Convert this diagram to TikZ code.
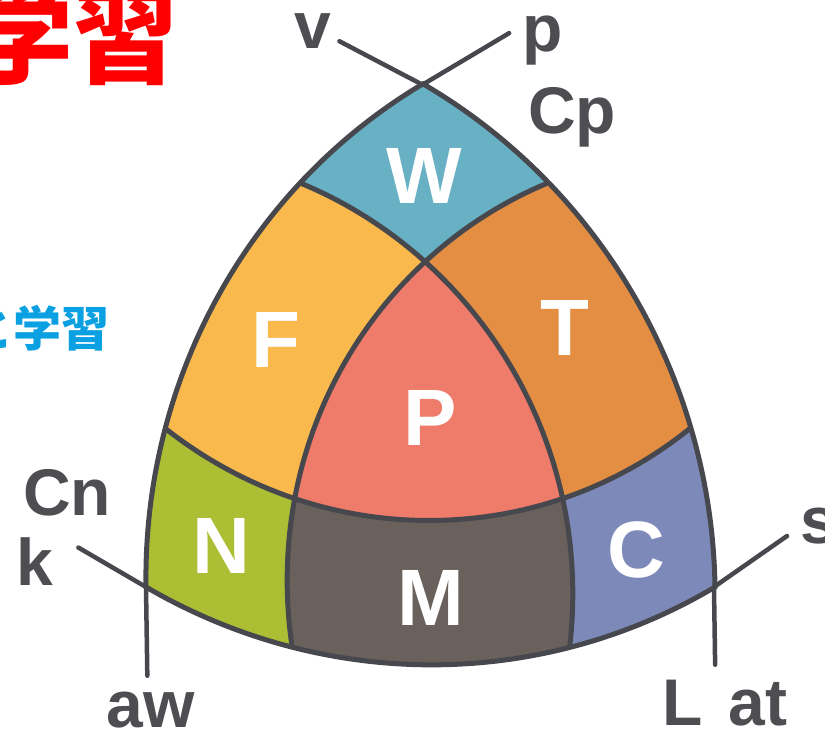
\documentclass[tikz,border=0pt]{standalone}
\usepackage{fontspec}
\setmainfont{Liberation Sans}
\newfontfamily\jpfont{Noto Sans CJK JP}
\definecolor{cW}{RGB}{104,176,196}
\definecolor{cF}{RGB}{249,185,76}
\definecolor{cT}{RGB}{227,142,66}
\definecolor{cP}{RGB}{239,123,106}
\definecolor{cN}{RGB}{171,190,52}
\definecolor{cM}{RGB}{106,96,92}
\definecolor{cC}{RGB}{125,138,185}
\definecolor{lineC}{RGB}{70,72,78}
\definecolor{labC}{RGB}{78,78,82}
\definecolor{jpRed}{RGB}{255,0,0}
\definecolor{jpBlue}{RGB}{10,160,226}
\begin{document}
\begin{tikzpicture}[x=1pt,y=1pt,
  lbl/.style={text=labC, font=\fontsize{66}{66}\selectfont\bfseries, inner sep=0pt, anchor=base},
  reg/.style={text=white, font=\fontsize{80}{80}\selectfont\bfseries, inner sep=0pt, anchor=base},
  bord/.style={draw=lineC, line width=5pt, line join=miter},
  ext/.style={draw=lineC, line width=4.5pt, line cap=round}]
\useasboundingbox (0,0) rectangle (825,-737);
\begin{scope}[cm={5.69,0,-0.087,5.81,(146pt,-587pt)}]
  \coordinate (A) at (0,0);
  \coordinate (B) at (100,0);
  \coordinate (T) at (50,86.6025);
  \coordinate (Ad) at (0,-15.3);
  \coordinate (Ak) at (-11.8,6.8);
  \coordinate (Bd) at (100,-13.4);
  \coordinate (Bs) at (113,8.8);
  \coordinate (Tp) at (65.4,95.5);
  \coordinate (Tv) at (35.5,94.1);
  \begin{scope}
    \clip (A) arc[start angle=180,end angle=120,radius=100]
              arc[start angle=60,end angle=0,radius=100]
              arc[start angle=-60,end angle=-120,radius=100] -- cycle;
    \fill[cW] (-20,-20) rectangle (120,100);
    \fill[cN] (A) circle[radius=75];
    \fill[cC] (B) circle[radius=75];
    \begin{scope}
      \clip (A) circle[radius=75];
      \fill[cM] (B) circle[radius=75];
    \end{scope}
    \begin{scope}
      \clip (T) circle[radius=75];
      \fill[cF] (A) circle[radius=75];
      \fill[cT] (B) circle[radius=75];
      \clip (A) circle[radius=75];
      \fill[cP] (B) circle[radius=75];
    \end{scope}
    \draw[bord] (A) circle[radius=75] (B) circle[radius=75] (T) circle[radius=75];
  \end{scope}
  \draw[bord] (A) arc[start angle=180,end angle=120,radius=100]
              arc[start angle=60,end angle=0,radius=100]
              arc[start angle=-60,end angle=-120,radius=100] -- cycle;
  \draw[ext] (A) -- (Ad);
  \draw[ext] (A) -- (Ak);
  \draw[ext] (B) -- (Bd);
  \draw[ext] (B) -- (Bs);
  \draw[ext] (T) -- (Tp);
  \draw[ext] (T) -- (Tv);
\end{scope}
% region letters
\node[reg] (lW) at (424,-203) {W};
\node[reg] (lF) at (276,-367) {F};
\node[reg] (lT) at (565,-355) {T};
\node[reg] (lP) at (430,-445) {P};
\node[reg] (lN) at (221,-573) {N};
\node[reg] (lM) at (431,-625) {M};
\node[reg] (lC) at (636,-577) {C};
% outer labels
\node[lbl] (tv) at (313,-48) {v};
\node[lbl] (tp) at (543,-51) {p};
\node[lbl] (tCp) at (572,-133) {Cp};
\node[lbl] (tCn) at (67,-515) {Cn};
\node[lbl] (tk) at (35,-585) {k};
\node[lbl] (taw) at (151,-727) {aw};
\node[lbl] (tLat) at (725,-725) {L\hspace{0.4em}at};
\node[lbl, anchor=base west] (ts) at (800,-543) {s};
% Japanese titles (cropped by the frame)
\node[text=jpRed, font=\jpfont\bfseries\fontsize{105}{105}\selectfont, inner sep=0pt, anchor=south east] (jt) at (179,-86) {学習};
\node[text=jpBlue, font=\jpfont\bfseries\fontsize{48}{48}\selectfont, inner sep=0pt, anchor=east] (js) at (110,-328) {と学習};
\end{tikzpicture}
\end{document}
